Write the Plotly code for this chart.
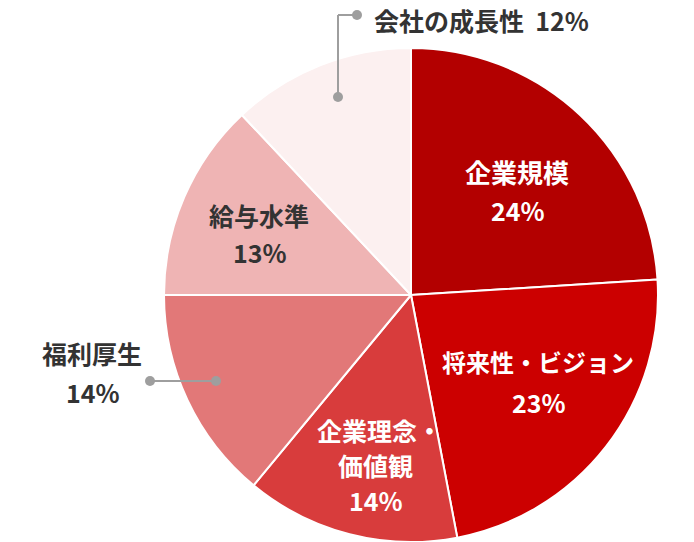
import plotly.graph_objects as go

labels = ["企業規模", "将来性・ビジョン", "企業理念・価値観", "福利厚生", "給与水準", "会社の成長性"]
values = [24, 23, 14, 14, 13, 12]
colors = ["#b30000", "#cc0000", "#d83c3c", "#e27878", "#efb4b4", "#fcf0f0"]

W, H = 694, 542

fig = go.Figure(go.Pie(
    labels=labels, values=values, sort=False, direction="clockwise", rotation=0,
    marker=dict(colors=colors, line=dict(color="white", width=2)),
    textinfo="none", hoverinfo="label+percent", showlegend=False,
    domain=dict(x=[(411 - 247) / W, (411 + 247) / W], y=[0, 1 - 48 / H]),
))

def px(x):
    return x / W

def py(y):
    return 1 - y / H

FONT = "Noto Sans CJK JP"
SIZE = 25
ann = []

def label(text, x, y, color, size=SIZE, anchor="center", yanchor="middle"):
    ann.append(dict(text="<b>" + text + "</b>", x=px(x), y=py(y), xref="paper", yref="paper",
                    showarrow=False, xanchor=anchor, yanchor=yanchor,
                    font=dict(family=FONT, size=size, color=color)))

pct = [f"{v}%" for v in values]
label(labels[0], 517, 172, "white", size=26)
label(pct[0], 518, 210, "white")
label(labels[1], 538, 362, "white", size=24)
label(pct[1], 539, 402, "white")
label("企業理念・", 380, 430, "white")
label("価値観", 376, 465, "white")
label(pct[2], 376, 500, "white")
label(labels[3], 92, 353, "#333333")
label(pct[3], 93, 392, "#333333")
label(labels[4], 259, 215, "#333333")
label(pct[4], 260, 252, "#333333")
label(labels[5] + "&nbsp;&nbsp;" + pct[5], 372, 0, "#333333", anchor="left", yanchor="top")

gray = "#9e9e9e"
shapes = [
    dict(type="line", xref="paper", yref="paper", x0=px(338), y0=py(97), x1=px(338), y1=py(15), line=dict(color=gray, width=2)),
    dict(type="line", xref="paper", yref="paper", x0=px(338), y0=py(15), x1=px(357), y1=py(15), line=dict(color=gray, width=2)),
    dict(type="line", xref="paper", yref="paper", x0=px(150), y0=py(381), x1=px(216), y1=py(381), line=dict(color=gray, width=2)),
]
for (cx, cy) in [(338, 97), (357, 15), (150, 381), (216, 381)]:
    shapes.append(dict(type="circle", xref="paper", yref="paper",
                       x0=px(cx - 5), x1=px(cx + 5), y0=py(cy + 5), y1=py(cy - 5),
                       fillcolor=gray, line=dict(width=0)))

fig.update_layout(width=W, height=H, margin=dict(l=0, r=0, t=0, b=0),
                  paper_bgcolor="white", plot_bgcolor="white",
                  annotations=ann, shapes=shapes)

fig.write_html("out.html", config={"displayModeBar": False},
               post_script="document.body.style.margin='0';document.body.style.overflow='hidden';")
